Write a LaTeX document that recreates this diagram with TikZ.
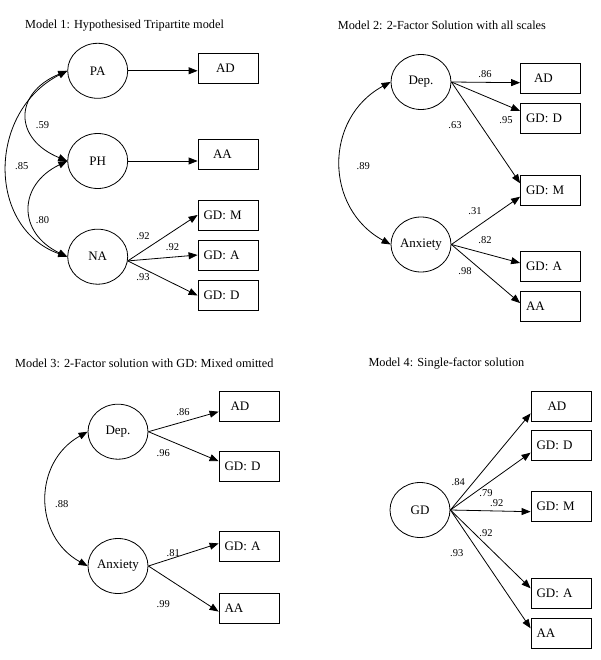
\documentclass[tikz,border=0pt]{standalone}
\usepackage{fontspec}
\setmainfont{Liberation Serif}
\usetikzlibrary{arrows.meta,shapes.geometric,calc}
\begin{document}
\begin{tikzpicture}[x=1pt,y=-1pt,
  >={Triangle[length=9pt,width=7pt]},
  lat/.style={draw, ellipse, minimum width=60pt, minimum height=55pt, inner sep=0pt, line width=0.8pt, font=\fontsize{13}{15}\selectfont},
  obs/.style={draw, rectangle, minimum width=60pt, minimum height=30pt, inner xsep=5.5pt, inner ysep=0pt, text width=49pt, align=left, line width=0.8pt, font=\fontsize{13}{15}\selectfont},
  conn/.style={->, line width=0.8pt},
  cov/.style={<->, line width=0.8pt},
  coef/.style={inner sep=0pt, font=\fontsize{10.5}{12}\selectfont},
  ttl/.style={anchor=west, inner sep=0pt, font=\fontsize{12.3}{14}\selectfont}]
\path[use as bounding box, fill=white] (0,0) rectangle (600,660);

% ---------- Model 1 ----------
\node[ttl] (t1) at (25,26) {Model 1: Hypothesised Tripartite model};
\node[lat] (PA) at (97.7,70.8) {PA};
\node[lat] (PH) at (97.7,161) {PH};
\node[lat] (NA) at (97.7,256.7) {NA};
\node[obs] (AD1) at (228,68) {\hspace*{12.5pt}AD};
\node[obs] (AA1) at (228,154) {\hspace*{9.5pt}AA};
\node[obs] (GM1) at (228,215) {GD: M};
\node[obs] (GA1) at (228,255) {GD: A};
\node[obs] (GD1) at (228,295.5) {GD: D};
\draw[conn] (PA.east) -- (PA.east -| AD1.west);
\draw[conn] (PH.east) -- (PH.east -| AA1.west);
\draw[conn] (NA.-8) -- (GM1.west);
\draw[conn] (NA.-8) -- (GA1.west);
\draw[conn] (NA.-8) -- (GD1.west);
\draw[cov] (PA.west) .. controls (13.5,93) and (13.5,139) .. (PH.west);
\draw[cov] (PH.west) .. controls (17.5,185) and (17.5,233) .. (NA.west);
\draw[cov] (PA.west) .. controls (-13,112) and (-13,228) .. (NA.west);
\node[coef] (l1a) at (143,236.5) {.92};
\node[coef] (l1b) at (172.5,247) {.92};
\node[coef] (l1c) at (143,277) {.93};
\node[coef] (l1d) at (42.5,125) {.59};
\node[coef] (l1e) at (21.7,166) {.85};
\node[coef] (l1f) at (42.5,220) {.80};

% ---------- Model 2 ----------
\node[ttl] (t2) at (337.7,25) {Model 2: 2-Factor Solution with all scales};
\node[lat] (Dep2) at (421,82) {Dep.};
\node[lat] (Anx2) at (421,244.5) {Anxiety};
\node[obs] (AD2) at (550.5,78) {\hspace*{8pt}AD};
\node[obs] (GD2) at (550.5,118.3) {GD: D};
\node[obs] (GM2) at (550.5,190) {GD: M};
\node[obs] (GA2) at (550.5,266) {GD: A};
\node[obs] (AA2) at (550.5,306.5) {AA};
\draw[conn] (Dep2.east) -- ($(AD2.west)+(0,4.7)$);
\draw[conn] (Dep2.east) -- ($(GD2.west)+(0,-7.3)$);
\draw[conn] (Dep2.east) -- ($(GM2.west)+(0,-6.7)$);
\draw[conn] (Anx2.east) -- ($(GM2.west)+(0,6.7)$);
\draw[conn] (Anx2.east) -- ($(GA2.west)+(0,-3)$);
\draw[conn] (Anx2.east) -- ($(AA2.west)+(0,-3.4)$);
\draw[cov] (Dep2.west) .. controls (324,118) and (324,208) .. (Anx2.west);
\node[coef] (l2a) at (485,74.5) {.86};
\node[coef] (l2b) at (506,120) {.95};
\node[coef] (l2c) at (455,125.5) {.63};
\node[coef] (l2d) at (363.3,166) {.89};
\node[coef] (l2e) at (475,211.5) {.31};
\node[coef] (l2f) at (485,240.5) {.82};
\node[coef] (l2g) at (465,271) {.98};

% ---------- Model 3 ----------
\node[ttl] (t3) at (15,363.5) {Model 3: 2-Factor solution with GD: Mixed omitted};
\node[lat] (Dep3) at (118,431.7) {Dep.};
\node[lat] (Anx3) at (118,566) {Anxiety};
\node[obs] (AD3) at (249,406.7) {\hspace*{6pt}AD};
\node[obs] (GD3) at (249,466.7) {GD: D};
\node[obs] (GA3) at (249,546.7) {GD: A};
\node[obs] (AA3) at (249,608.3) {AA};
\draw[conn] (Dep3.east) -- ($(AD3.west)+(0,5)$);
\draw[conn] (Dep3.east) -- ($(GD3.west)+(0,-5.5)$);
\draw[conn] (Anx3.east) -- ($(GA3.west)+(0,-3.3)$);
\draw[conn] (Anx3.east) -- ($(AA3.west)+(0,3.3)$);
\draw[cov] (Dep3.west) .. controls (33,462) and (33,536) .. (Anx3.west);
\node[coef] (l3a) at (183,412.5) {.86};
\node[coef] (l3b) at (163.3,453) {.96};
\node[coef] (l3c) at (61.7,504) {.88};
\node[coef] (l3d) at (173.3,553.5) {.81};
\node[coef] (l3e) at (163.3,604) {.99};

% ---------- Model 4 ----------
\node[ttl] (t4) at (368.3,363.5) {Model 4: Single-factor solution};
\node[lat] (G4) at (420,510) {GD};
\node[obs] (AD4) at (561,406.7) {\hspace*{11pt}AD};
\node[obs] (GD4) at (561,445.7) {GD: D};
\node[obs] (GM4) at (561,506.7) {GD: M};
\node[obs] (GA4) at (561,593.3) {GD: A};
\node[obs] (AA4) at (561,633.3) {AA};
\draw[conn] (G4.east) -- ($(AD4.west)+(0,6.7)$);
\draw[conn] (G4.east) -- ($(GD4.west)+(0,7)$);
\draw[conn] (G4.east) -- ($(GM4.west)+(0,5)$);
\draw[conn] (G4.east) -- ($(GA4.west)+(0,-5)$);
\draw[conn] (G4.east) -- ($(AA4.west)+(0,-5)$);
\node[coef] (l4a) at (458.3,482) {.84};
\node[coef] (l4b) at (486,493.5) {.79};
\node[coef] (l4c) at (496.7,503.5) {.92};
\node[coef] (l4d) at (486,533.5) {.92};
\node[coef] (l4e) at (456.7,553.5) {.93};
\end{tikzpicture}
\end{document}
